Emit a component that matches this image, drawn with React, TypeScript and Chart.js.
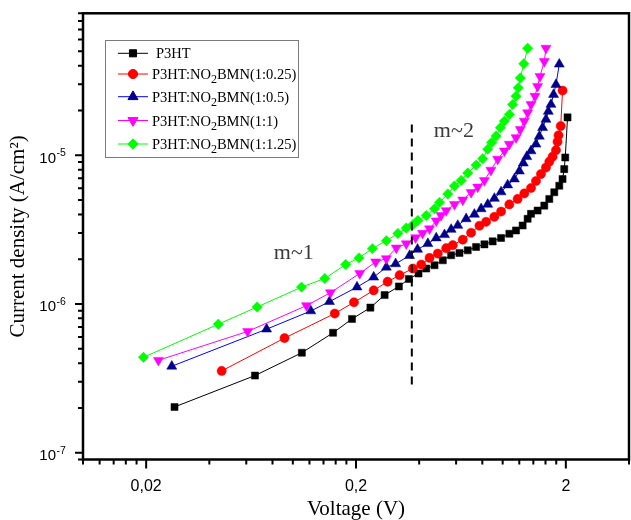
import React, { useEffect, useRef } from 'react';
import { Chart, registerables } from 'chart.js';
import { drawPoint } from 'chart.js/helpers';

Chart.register(...registerables);

// ---------------- data (Voltage in V, current density in A/cm²) ----------------
const vP3HT = [0.0273, 0.066, 0.1104, 0.1555, 0.1914, 0.2342, 0.2738, 0.3202, 0.3573, 0.3972, 0.4323, 0.4734, 0.5185, 0.5682, 0.6225, 0.6816, 0.747, 0.8185, 0.8961, 0.9826, 1.076, 1.158, 1.245, 1.315, 1.365, 1.467, 1.579, 1.668, 1.762, 1.861, 1.929, 1.965, 1.987, 2.038];
const jP3HT = [2.03e-7, 3.3e-7, 4.7e-7, 6.4e-7, 7.93e-7, 9.45e-7, 1.148e-6, 1.312e-6, 1.472e-6, 1.603e-6, 1.731e-6, 1.821e-6, 1.967e-6, 2.125e-6, 2.204e-6, 2.294e-6, 2.417e-6, 2.516e-6, 2.635e-6, 2.777e-6, 2.966e-6, 3.121e-6, 3.371e-6, 3.736e-6, 4.036e-6, 4.246e-6, 4.585e-6, 5.084e-6, 5.636e-6, 6.239e-6, 6.918e-6, 8.066e-6, 9.66e-6, 1.796e-5];

const v025 = [0.0458, 0.0913, 0.1584, 0.1956, 0.2428, 0.2829, 0.3227, 0.3733, 0.4093, 0.4483, 0.4909, 0.5382, 0.5784, 0.6453, 0.7074, 0.7749, 0.834, 0.9131, 0.9826, 1.076, 1.178, 1.268, 1.365, 1.441, 1.522, 1.608, 1.668, 1.729, 1.795, 1.826, 1.846, 1.891, 1.929];
const j025 = [3.547e-7, 5.894e-7, 8.621e-7, 1.026e-6, 1.234e-6, 1.411e-6, 1.561e-6, 1.731e-6, 1.841e-6, 2.041e-6, 2.18e-6, 2.373e-6, 2.486e-6, 2.705e-6, 3.012e-6, 3.355e-6, 3.569e-6, 3.854e-6, 4.181e-6, 4.67e-6, 5.084e-6, 5.534e-6, 6.021e-6, 6.708e-6, 7.471e-6, 8.258e-6, 9.055e-6, 9.779e-6, 1.081e-5, 1.232e-5, 1.361e-5, 1.571e-5, 2.721e-5];

const v05 = [0.02649, 0.075, 0.1218, 0.1495, 0.2022, 0.2428, 0.279, 0.309, 0.3601, 0.3929, 0.44, 0.4824, 0.5283, 0.5682, 0.6109, 0.6699, 0.7334, 0.7895, 0.8487, 0.9131, 0.9826, 1.056, 1.137, 1.201, 1.254, 1.303, 1.365, 1.441, 1.495, 1.55, 1.608, 1.65, 1.699, 1.748, 1.795, 1.861];
const j05 = [3.812e-7, 6.77e-7, 8.972e-7, 1.037e-6, 1.298e-6, 1.514e-6, 1.766e-6, 1.861e-6, 2.115e-6, 2.329e-6, 2.543e-6, 2.777e-6, 2.921e-6, 3.17e-6, 3.371e-6, 3.736e-6, 4.005e-6, 4.359e-6, 4.67e-6, 5.123e-6, 5.662e-6, 6.307e-6, 6.918e-6, 7.82e-6, 8.847e-6, 9.779e-6, 1.069e-5, 1.186e-5, 1.341e-5, 1.533e-5, 1.742e-5, 1.97e-5, 2.194e-5, 2.559e-5, 2.985e-5, 4.093e-5];

const v1 = [0.02288, 0.0609, 0.1162, 0.1511, 0.2083, 0.2482, 0.279, 0.3112, 0.3473, 0.3845, 0.4151, 0.4483, 0.4824, 0.5083, 0.5382, 0.5893, 0.6453, 0.7074, 0.7605, 0.8185, 0.8789, 0.9467, 1.019, 1.076, 1.158, 1.214, 1.268, 1.315, 1.365, 1.426, 1.467, 1.506, 1.579, 1.608];
const j1 = [4.181e-7, 6.534e-7, 9.75e-7, 1.191e-6, 1.603e-6, 1.919e-6, 2.019e-6, 2.381e-6, 2.543e-6, 2.79e-6, 2.989e-6, 3.204e-6, 3.624e-6, 3.944e-6, 4.246e-6, 4.67e-6, 5.006e-6, 5.619e-6, 6.115e-6, 6.761e-6, 7.945e-6, 9.41e-6, 1.069e-5, 1.186e-5, 1.314e-5, 1.493e-5, 1.696e-5, 1.931e-5, 2.194e-5, 2.493e-5, 2.908e-5, 3.392e-5, 4.273e-5, 5.251e-5];

const v125 = [0.01942, 0.04414, 0.0676, 0.11, 0.142, 0.1786, 0.2067, 0.2393, 0.279, 0.3167, 0.3473, 0.3733, 0.3942, 0.4323, 0.4734, 0.5, 0.5477, 0.5893, 0.6341, 0.6816, 0.747, 0.8031, 0.8487, 0.8863, 0.9303, 0.9752, 1.019, 1.076, 1.116, 1.158, 1.187, 1.214, 1.261, 1.315];
const j125 = [4.378e-7, 7.311e-7, 9.54e-7, 1.298e-6, 1.484e-6, 1.841e-6, 2.041e-6, 2.355e-6, 2.663e-6, 2.98e-6, 3.238e-6, 3.407e-6, 3.641e-6, 3.932e-6, 4.359e-6, 4.817e-6, 5.49e-6, 6.21e-6, 6.761e-6, 7.586e-6, 8.58e-6, 9.48e-6, 1.098e-5, 1.217e-5, 1.347e-5, 1.533e-5, 1.696e-5, 1.88e-5, 2.194e-5, 2.493e-5, 2.837e-5, 3.309e-5, 4.124e-5, 5.235e-5];

// boundary between the two regimes
const boundaryV = [0.369, 0.369];
const boundaryJ = [1.61e-5, 2.82e-7];

// axis ticks
const xTickValues = [0.01, 0.012, 0.014, 0.016, 0.018, 0.02, 0.04, 0.06, 0.08, 0.1, 0.12, 0.14, 0.16, 0.18, 0.2, 0.4, 0.6, 0.8, 1, 1.2, 1.4, 1.6, 1.8, 2, 4];
const xMajorValues = [0.02, 0.2, 2];
const xMajorLabels = ['0,02', '0,2', '2'];
const yTickValues = [9e-8, 1e-7, 2e-7, 3e-7, 4e-7, 5e-7, 6e-7, 7e-7, 8e-7, 9e-7, 1e-6, 2e-6, 3e-6, 4e-6, 5e-6, 6e-6, 7e-6, 8e-6, 9e-6, 1e-5, 2e-5, 3e-5, 4e-5, 5e-5, 6e-5, 7e-5, 8e-5, 9e-5];
const yMajorValues = [1e-7, 1e-6, 1e-5];

// annotations
const annotTexts = ['m~1', 'm~2'];
const annotV = [0.0812, 0.47];
const annotJ = [2.02e-6, 1.32e-5];

// legend text segments (sub = subscript)
const legendLabels = [
  [{ t: 'P3HT' }],
  [{ t: 'P3HT:NO' }, { t: '2', sub: true }, { t: 'BMN(1:0.25)' }],
  [{ t: 'P3HT:NO' }, { t: '2', sub: true }, { t: 'BMN(1:0.5)' }],
  [{ t: 'P3HT:NO' }, { t: '2', sub: true }, { t: 'BMN(1:1)' }],
  [{ t: 'P3HT:NO' }, { t: '2', sub: true }, { t: 'BMN(1:1.25)' }],
];

const SERIF = '"Liberation Serif", "Times New Roman", Times, serif';
const SANS = '"Liberation Sans", Arial, Helvetica, sans-serif';

const near = (a: number, b: number) => Math.abs(Math.log10(a) - Math.log10(b)) < 1e-6;

function series(label: string, V: number[], J: number[], line: string, fill: string, style: string, radius: number, rotation: number, order: number) {
  return {
    label,
    data: V.map((v, i) => ({ x: v, y: J[i] })),
    borderColor: line,
    backgroundColor: fill,
    pointBackgroundColor: fill,
    pointBorderColor: fill,
    pointBorderWidth: 0.5,
    pointStyle: style,
    pointRadius: radius,
    pointRotation: rotation,
    borderWidth: 1,
    order,
    tension: 0,
  };
}

const overlay = {
  id: 'overlay',
  afterDatasetsDraw(chart: any) {
    const { ctx, chartArea: ca } = chart;
    const xs = chart.scales.x;
    const ys = chart.scales.y;
    ctx.save();
    // frame
    ctx.strokeStyle = '#000';
    ctx.lineWidth = 2.5;
    ctx.strokeRect(ca.left, ca.top, ca.right - ca.left, ca.bottom - ca.top);
    // ticks
    ctx.lineWidth = 2;
    ctx.beginPath();
    xs.ticks.forEach((t: any) => {
      const px = xs.getPixelForValue(t.value);
      const len = t.major ? 9 : 5;
      ctx.moveTo(px, ca.bottom);
      ctx.lineTo(px, ca.bottom + len);
    });
    ys.ticks.forEach((t: any) => {
      const py = ys.getPixelForValue(t.value);
      const len = t.major ? 8 : 5;
      ctx.moveTo(ca.left - len, py);
      ctx.lineTo(ca.left, py);
    });
    ctx.stroke();
    // y labels 10^n
    ctx.fillStyle = '#000';
    ctx.textBaseline = 'alphabetic';
    ys.ticks.forEach((t: any) => {
      if (!t.major) return;
      const py = ys.getPixelForValue(t.value);
      ctx.font = '15px ' + SANS;
      ctx.textAlign = 'right';
      ctx.fillText('10', ca.left - 27, py + 7.5);
      ctx.font = '10.5px ' + SANS;
      ctx.textAlign = 'left';
      ctx.fillText(String(Math.round(Math.log10(t.value))), ca.left - 26.5, py + 1);
    });
    // annotations
    ctx.font = '22px ' + SERIF;
    ctx.fillStyle = '#3a3a3a';
    ctx.textAlign = 'left';
    annotTexts.forEach((s, i) => {
      ctx.fillText(s, xs.getPixelForValue(annotV[i]), ys.getPixelForValue(annotJ[i]));
    });
    // legend
    const bx = 105, by = 40, bw = 193, bh = 117;
    ctx.fillStyle = '#fff';
    ctx.fillRect(bx, by, bw, bh);
    ctx.strokeStyle = '#7a7a7a';
    ctx.lineWidth = 1;
    ctx.strokeRect(bx + 0.5, by + 0.5, bw, bh);
    const rowY = [53.3, 74, 96.7, 120.5, 144];
    legendLabels.forEach((segs, i) => {
      const ds = chart.data.datasets[i];
      const y = rowY[i];
      ctx.strokeStyle = ds.borderColor;
      ctx.lineWidth = 1;
      ctx.beginPath();
      ctx.moveTo(118, y);
      ctx.lineTo(148, y);
      ctx.stroke();
      ctx.fillStyle = ds.pointBackgroundColor;
      ctx.strokeStyle = ds.pointBorderColor;
      drawPoint(ctx, { pointStyle: ds.pointStyle, radius: ds.pointRadius, rotation: ds.pointRotation, borderWidth: 0.5 }, 133, y);
      let x = i === 0 ? 156 : 152;
      ctx.fillStyle = '#000';
      ctx.textAlign = 'left';
      segs.forEach((sg: any) => {
        ctx.font = (sg.sub ? '12px ' : '14.5px ') + SERIF;
        ctx.fillText(sg.t, x, y + 5 + (sg.sub ? 4 : 0));
        x += ctx.measureText(sg.t).width;
      });
    });
    ctx.restore();
  },
};

export default function App() {
  const ref = useRef<HTMLCanvasElement>(null);
  useEffect(() => {
    document.body.style.margin = '0';
    const chart = new Chart(ref.current as HTMLCanvasElement, {
      type: 'line',
      data: {
        datasets: [
          series('P3HT', vP3HT, jP3HT, '#000000', '#000000', 'rect', 5, 0, 5),
          series('P3HT:NO2BMN(1:0.25)', v025, j025, '#ff0000', '#ff0000', 'circle', 4.6, 0, 4),
          series('P3HT:NO2BMN(1:0.5)', v05, j05, '#0000ff', '#00008b', 'triangle', 5.8, 0, 3),
          series('P3HT:NO2BMN(1:1)', v1, j1, '#ff00ff', '#ff00ff', 'triangle', 5.8, 180, 2),
          series('P3HT:NO2BMN(1:1.25)', v125, j125, '#00ff00', '#00ff00', 'rectRot', 5.2, 0, 1),
          {
            label: 'boundary',
            data: boundaryV.map((v, i) => ({ x: v, y: boundaryJ[i] })),
            borderColor: '#000',
            borderWidth: 2,
            borderDash: [8, 6],
            pointRadius: 0,
            order: 0,
          } as any,
        ],
      },
      options: {
        responsive: false,
        animation: false,
        layout: { autoPadding: false, padding: { top: 13.3, right: 2, left: 0, bottom: 0 } },
        plugins: { legend: { display: false }, tooltip: { enabled: false } },
        scales: {
          x: {
            type: 'logarithmic',
            position: 'bottom',
            min: 0.01,
            max: 4,
            afterBuildTicks: (s: any) => {
              s.ticks = xTickValues.map((v) => ({ value: v, major: xMajorValues.some((m) => near(m, v)) }));
            },
            afterFit: (s: any) => {
              s.height = 60.5;
              s.paddingLeft = 0;
              s.paddingRight = 0;
            },
            grid: { display: false, drawTicks: true, tickLength: 9 },
            border: { display: false },
            ticks: {
              autoSkip: false,
              maxRotation: 0,
              padding: 8,
              color: '#000',
              font: { family: SANS, size: 16 },
              callback: (value: any) => {
                const k = xMajorValues.findIndex((m) => near(m, Number(value)));
                return k >= 0 ? xMajorLabels[k] : '';
              },
            },
            title: {
              display: true,
              text: 'Voltage (V)',
              color: '#000',
              font: { family: SERIF, size: 21, lineHeight: 1 },
              padding: 0,
            },
          },
          y: {
            type: 'logarithmic',
            min: 9e-8,
            max: 9e-5,
            afterBuildTicks: (s: any) => {
              s.ticks = yTickValues.map((v) => ({ value: v, major: yMajorValues.some((m) => near(m, v)) }));
            },
            afterFit: (s: any) => {
              s.width = 83;
              s.paddingTop = 0;
              s.paddingBottom = 0;
            },
            grid: { display: false },
            border: { display: false },
            ticks: { display: false },
            title: {
              display: true,
              text: 'Current density (A/cm²)',
              color: '#000',
              font: { family: SERIF, size: 21, lineHeight: 1 },
              padding: { top: 8, bottom: 0 },
            },
          },
        },
      },
      plugins: [overlay],
    } as any);
    return () => chart.destroy();
  }, []);
  return (
    <div style={{ position: 'absolute', left: 0, top: 0 }}>
      <canvas ref={ref} width={631} height={520} style={{ display: 'block' }} />
    </div>
  );
}
